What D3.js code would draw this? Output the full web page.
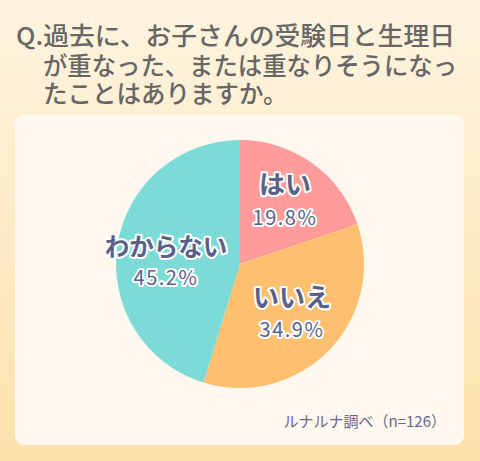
<!DOCTYPE html>
<html><head><meta charset="utf-8">
<script src="https://cdn.jsdelivr.net/npm/d3@7"></script>
<style>html,body{margin:0;padding:0;background:#fdedc8;}svg{display:block;}</style>
</head><body>
<script>
const titleLines = ["Q.過去に、お子さんの受験日と生理日", "が重なった、または重なりそうになっ", "たことはありますか。"];
const categories = ["はい", "いいえ", "わからない"];
const values = [19.8, 34.9, 45.2];
const valueLabels = ["19.8%", "34.9%", "45.2%"];
const colors = ["#fe9b9b", "#fec06f", "#7ddbd7"];
const source = "ルナルナ調べ（n=126）";

const W = 480, H = 461;
const svg = d3.select("body").append("svg").attr("width", W).attr("height", H);
const defs = svg.append("defs");
const grad = defs.append("linearGradient").attr("id", "bg").attr("x1", 0).attr("y1", 0).attr("x2", 0).attr("y2", 1);
grad.append("stop").attr("offset", "0%").attr("stop-color", "#fef4e0");
grad.append("stop").attr("offset", "100%").attr("stop-color", "#fde2ab");
svg.append("rect").attr("width", W).attr("height", H).attr("fill", "url(#bg)");

svg.append("rect").attr("x", 15).attr("y", 115).attr("width", 449).attr("height", 330)
  .attr("rx", 9).attr("fill", "#fff8ef");

const font = "'Noto Sans CJK JP', 'Noto Sans', sans-serif";
const tx = [16, 43, 43], ty = [45, 75, 103];
const tlen = [439, 414, null];
svg.selectAll("text.title").data(titleLines).join("text").attr("class", "title")
  .attr("x", (d, i) => tx[i]).attr("y", (d, i) => ty[i])
  .attr("font-family", font).attr("font-weight", 500).attr("font-size", 24.5)
  .attr("fill", "#666666")
  .each(function (d, i) { if (tlen[i]) d3.select(this).attr("textLength", tlen[i]).attr("lengthAdjust", "spacingAndGlyphs"); })
  .text(d => d);

const cx = 240, cy = 264, r = 124;
const pie = d3.pie().sort(null).value(d => d);
const arcs = pie(values);
const arc = d3.arc().innerRadius(0).outerRadius(r);
const g = svg.append("g").attr("transform", `translate(${cx},${cy})`);
g.selectAll("path").data(arcs).join("path").attr("d", arc).attr("fill", (d, i) => colors[i]);

const labelPos = [[285, 194, 225], [292, 307, 337], [166, 256, 285]];
const catSize = [26, 26, 24.5];
arcs.forEach((a, i) => {
  const [x, y1, y2] = labelPos[i];
  svg.append("text").attr("x", x).attr("y", y1).attr("text-anchor", "middle")
    .attr("font-family", font).attr("font-weight", 700).attr("font-size", catSize[i])
    .attr("fill", "#5b6186").attr("stroke", "#ffffff").attr("stroke-width", 4)
    .attr("stroke-linejoin", "round").attr("paint-order", "stroke").text(categories[i]);
  svg.append("text").attr("x", x).attr("y", y2).attr("text-anchor", "middle")
    .attr("font-family", font).attr("font-weight", 400).attr("font-size", 20)
    .attr("letter-spacing", 1.5)
    .attr("fill", "#5b6186").attr("stroke", "#ffffff").attr("stroke-width", 4)
    .attr("stroke-linejoin", "round").attr("paint-order", "stroke").text(valueLabels[i]);
});

svg.append("text").attr("x", 446).attr("y", 427).attr("text-anchor", "end")
  .attr("font-family", font).attr("font-size", 15).attr("fill", "#666a8a").text(source);
</script>
</body></html>
